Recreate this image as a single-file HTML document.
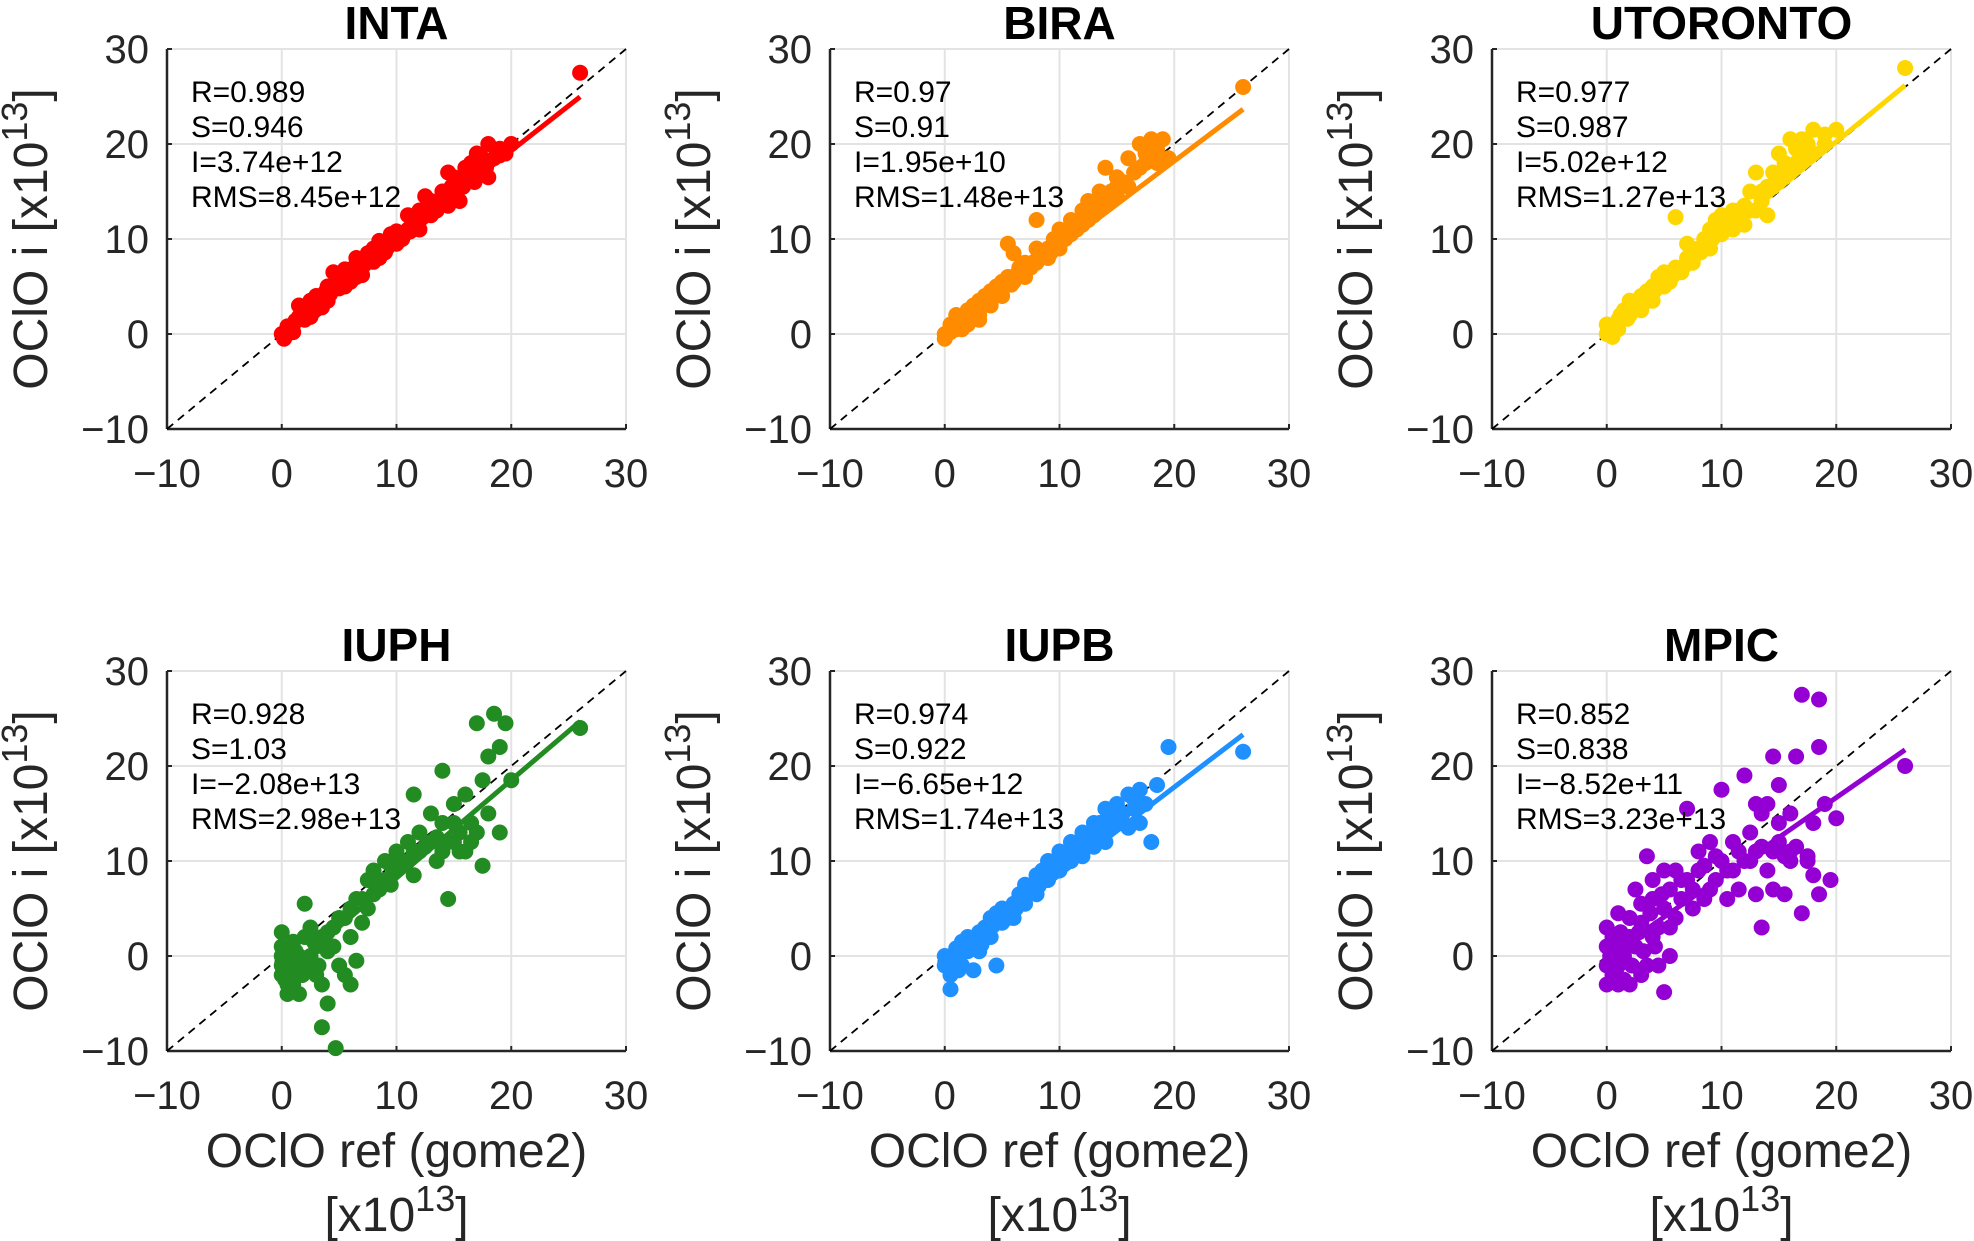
<!DOCTYPE html>
<html><head><meta charset="utf-8"><style>
html,body{margin:0;padding:0;background:#fff;}
svg{display:block;font-family:"Liberation Sans","DejaVu Sans",sans-serif;}
</style></head><body>
<svg id="fig" width="1974" height="1241" viewBox="0 0 1974 1241" xmlns="http://www.w3.org/2000/svg"></svg>
<script>
const panelNames = ["INTA","BIRA","UTORONTO","IUPH","IUPB","MPIC"];
const panelColors = ["#ff0000","#ff8c00","#ffd700","#228b22","#1e90ff","#9400d3"];
const statR = ["0.989","0.97","0.977","0.928","0.974","0.852"];
const statS = ["0.946","0.91","0.987","1.03","0.922","0.838"];
const statI = ["3.74e+12","1.95e+10","5.02e+12","\u22122.08e+13","\u22126.65e+12","\u22128.52e+11"];
const statRMS = ["8.45e+12","1.48e+13","1.27e+13","2.98e+13","1.74e+13","3.23e+13"];
const fitSlope = [0.946,0.91,0.987,1.03,0.922,0.838];
const fitIntercept = [0.374,0.00195,0.502,-2.08,-0.665,-0.0852];
const tickValues = [-10,0,10,20,30];
const tickLabels = ["\u221210","0","10","20","30"];

const ptsINTA = [[0,0],[0.2,-0.5],[0.5,0.8],[1,1],[1,0.2],[1.5,1.8],[2,1.5],[2,2.5],[2.5,3.5],[3,2.6],[3,4],[3.5,3.8],[4,3.5],[4,5],[4.5,6.5],[5,4.8],[5,6],[5.5,5],[6,6.8],[6,5.5],[6.5,8],[7,7],[7,6.2],[7.5,8.5],[8,7.6],[8,9],[8.5,8],[9,9.5],[9,8.6],[9.5,10.5],[10,9.5],[10,10.8],[10.5,10],[11,11],[11,12.5],[11.5,11.5],[12,11],[12,13],[12.5,14.5],[13,12.5],[13,14],[13.5,13],[14,15],[14.5,13.5],[15,14.5],[15,16.5],[15.5,14],[16,16],[16,17.5],[16.5,18],[17,17],[17,19],[17.5,18.5],[18,20],[18,16.5],[19,19.5],[19.5,19],[20,20],[26,27.5],[1.5,3],[2.5,1.8],[3.5,2.8],[5.5,6.8],[6.5,6],[8.5,9.8],[0.5,0],[1.2,1.4],[1.8,2.2],[2.2,3],[2.8,2.4],[3.2,3.3],[3.8,4.4],[4.2,4.2],[4.8,5.4],[5.2,5.3],[5.8,5.9],[6.2,6.3],[6.8,7.4],[7.2,7.3],[7.8,7.9],[8.2,8.4],[8.8,8.9],[9.2,9.1],[9.8,9.8],[10.2,10.3],[10.8,10.6],[11.2,10.8],[11.8,12],[12.2,12.2],[12.8,12.8],[13.2,13.2],[13.8,13.8],[14.2,14],[14.8,15.5],[15.2,15],[15.8,15.5],[16.2,16.8],[16.8,16],[17.2,18],[17.8,17.5],[18.5,18.5],[19,18.8],[14.5,17]];
const ptsBIRA = [[0,0],[0,-0.5],[0.5,1],[1,0.5],[1,2],[1.5,1.5],[2,2.5],[2,1],[2.5,3],[3,2],[3,3.5],[3.5,4],[4,3],[4,4.5],[4.5,5],[5,4],[5,5.5],[5.5,6],[5.5,9.5],[6,5.5],[6,8.5],[6.5,7],[7,6],[7,7.5],[7.5,7],[8,7.5],[8,9],[8.5,8.2],[9,9],[9,8],[9.5,10],[10,9],[10,11],[11,10.5],[11,12],[12,11.5],[12,13],[12.5,14],[13,12.5],[13.5,15],[14,13.5],[14,17.5],[14.5,15],[15,14.5],[15,16.5],[15.5,16],[16,15.5],[16,18.5],[17,17.5],[17,20],[17.5,18],[18,20.5],[18.5,19.5],[19,20.5],[19.5,18.5],[26,26],[8,12],[1.5,0.5],[3,1.5],[0.5,0.2],[1.2,1.2],[1.8,2],[2.2,1.8],[2.8,2.6],[3.2,3],[3.8,3.4],[4.2,3.9],[4.8,4.4],[5.2,5],[5.8,5.2],[6.2,6.2],[6.8,6.4],[7.2,6.8],[7.8,7.6],[8.2,8.3],[8.8,8.8],[9.2,8.5],[9.8,9.4],[10.5,10],[11.5,11],[12.5,12],[13,13.5],[14,14.5],[15,15.5],[16.5,17],[17.5,19],[18.5,18]];
const ptsUTORONTO = [[0,0],[0,1],[0.5,-0.3],[1,1.5],[1,0.5],[1.5,2.5],[2,2],[2,3.5],[2.5,3],[3,4],[3,2.5],[3.5,4.5],[4,5],[4,3.5],[4.5,6],[5,5],[5,6.5],[5.5,5.5],[6,7],[6,12.3],[6.5,6.5],[7,8],[7,9.5],[7.5,7.5],[8,9],[8.5,10],[9,9],[9,11],[9.5,12],[10,10.5],[10,12.5],[11,11],[11,13],[11.5,12],[12,13.5],[12,11.5],[12.5,15],[13,13],[13,17],[13.5,14],[14,15.5],[14,12.5],[14.5,17],[15,16],[15,19],[15.5,18],[16,17],[16,20.5],[16.5,19.5],[17,18.5],[17.5,20],[18,19],[18,21.5],[19,20],[19,21],[20,21.5],[26,28],[0.5,0.6],[1.2,2],[1.8,1.6],[2.2,2.8],[2.8,3.6],[3.2,3.2],[3.8,4],[4.2,4.6],[4.8,5.6],[5.2,6],[5.8,6.2],[6.2,6.6],[6.8,7.2],[7.2,7.8],[7.8,8.4],[8.2,8.6],[8.8,9.6],[9.2,10],[10.5,11.5],[11.5,13],[12.5,13],[13.5,15],[14.5,15.5],[15.5,16.5],[16.5,18],[17,20.5]];
const ptsIUPH = [[0,-1],[0,-2],[0,1],[0,2.5],[0.5,-3],[0.5,0],[0.5,-4],[1,-1],[1,-3],[1,1.5],[1.5,0],[1.5,-4],[2,-1],[2,2],[2,5.5],[2.5,0],[2.5,3],[3,1],[3,-2],[3.5,2],[3.5,-3],[4,2.5],[4,-5],[4.5,3],[3.5,-7.5],[5,-1],[5,4],[5.5,4],[4.7,-9.7],[6,5],[6,2],[6.5,6],[7,6],[7,3.5],[7.5,8],[8,6.5],[8,9],[8.5,7],[9,10],[9,8],[9.5,7.5],[10,11],[10,9],[11,10],[11,12],[11.5,8.5],[12,11],[12,13],[11.5,17],[13,12],[13,15],[13.5,10],[14,11],[14,14],[14.5,6],[14,19.5],[15,12],[15,16],[15.5,13],[16,11],[16,17],[16.5,14],[17,13],[17,24.5],[17.5,18.5],[18,15],[18,21],[18.5,25.5],[19,22],[19,13],[19.5,24.5],[20,18.5],[26,24],[0,0],[0.3,-2.5],[0.8,-1.5],[1.2,0.5],[1.8,-2],[2.2,-0.5],[2.8,1.5],[3.2,-1],[4,0.5],[4.5,1],[5.5,-2],[6,-3],[6.5,-0.5],[7.5,5],[8.5,8],[9.5,9.5],[10.5,10],[11.5,11],[12.5,11.5],[13.5,12.5],[14.5,12],[15.5,11],[16.5,12],[17.5,9.5],[15,14]];
const ptsIUPB = [[0,-1],[0,0],[0.5,-2],[0.5,-3.5],[1,-0.5],[1,0.8],[1.5,-1],[1.5,1.5],[2,0.5],[2,2],[2.5,1],[2.5,-1.5],[3,2.5],[3,0.5],[3.5,3],[4,2],[4,4],[4.5,4.5],[4.5,-1],[5,3.5],[5,5],[5.5,4],[6,5.5],[6,4],[6.5,6.5],[7,5.5],[7,7.5],[7.5,7],[8,8.5],[8,6.5],[8.5,9],[9,8],[9,10],[9.5,9.5],[10,9],[10,11],[10.5,10.5],[11,10],[11,12],[11.5,11],[12,13],[12,10.5],[12.5,12],[13,14],[13,11.5],[13.5,13],[14,12],[14,15.5],[14.5,13.5],[15,14],[15,16],[15.5,15],[16,17],[16,13.5],[16.5,15.5],[17,17.5],[17,14],[17.5,16],[18,12],[18.5,18],[19.5,22],[26,21.5],[0.3,-0.5],[0.8,0.2],[1.2,-1.5],[1.8,0.8],[2.2,1.4],[2.8,1.8],[3.2,1.2],[3.8,2.6],[4.2,3.2],[4.8,3.8],[5.2,4.4],[5.8,4.8],[6.2,5],[6.8,6.2],[7.2,6.6],[7.8,7.6],[8.2,7.4],[8.8,8.4],[9.2,8.8],[9.8,10.2],[10.2,9.8],[10.8,11],[11.2,10.6],[11.8,12],[12.2,11.8],[12.8,12.6],[13.5,14],[14.5,14.5],[15.5,14],[16.5,16.5]];
const ptsMPIC = [[0,-1],[0,1],[0,-3],[0,3],[0.5,-2],[0.5,0],[0.5,2],[1,-3],[1,-1],[1,1],[1,4.5],[1.5,0],[1.5,-2.5],[2,2],[2,-3],[2,4],[2.5,1],[2.5,7],[3,-2],[3,3.5],[3,5.5],[3.5,10.5],[3.5,-1],[4,2],[4,6],[4,8],[4.5,3],[4.5,-1],[5,5],[5,9],[5,-3.8],[5.5,0],[5.5,7],[6,4],[6,9],[6.5,6],[7,8],[7,15.5],[7.5,5],[8,9],[8,11],[8.5,6],[9,12],[9,7],[9.5,8],[10,17.5],[10,10],[10.5,6],[11,12],[11,9],[11.5,7],[12,19],[12,10],[12.5,13],[13,6.5],[13,11],[13.5,15],[13.5,3],[14,16],[14,9],[14.5,21],[14.5,7],[15,12],[15,18],[15.5,6.5],[16,11],[16,15],[16.5,21],[17,27.5],[17,4.5],[17.5,10],[18,14],[18,8.5],[18.5,27],[18.5,22],[18.5,6.5],[19,16],[19.5,8],[20,14.5],[26,20],[0.3,0],[0.8,-1.5],[1.2,2.5],[1.8,1],[2.2,-1],[2.8,2.5],[3.2,0.5],[3.8,4.5],[4.2,1],[4.8,6.5],[5.5,3],[6.5,8],[7.5,7],[8.5,9.5],[9.5,10.5],[10.5,9],[11.5,11],[12.5,10],[13.5,11.5],[14.5,11],[15.5,10.5],[16.5,11.5],[17.5,10.5],[13,16],[15,14],[16,10]];
const panelPoints = [ptsINTA,ptsBIRA,ptsUTORONTO,ptsIUPH,ptsIUPB,ptsMPIC];

const NS="http://www.w3.org/2000/svg";
const svg=document.getElementById('fig');
function mk(tag,attrs,parent){const e=document.createElementNS(NS,tag);for(const k in attrs)e.setAttribute(k,attrs[k]);(parent||svg).appendChild(e);return e;}

const colLeft=[167,830,1492], rowTop=[49,671], AW=459, AH=380;
const VMIN=-10, VMAX=30;

panelNames.forEach((name,p)=>{
  const L=colLeft[p%3], T=rowTop[Math.floor(p/3)], B=T+AH, R=L+AW;
  const sx=v=>L+(v-VMIN)/(VMAX-VMIN)*AW;
  const sy=v=>B-(v-VMIN)/(VMAX-VMIN)*AH;
  const g=mk('g',{});
  
  
  tickValues.forEach(v=>{
    const gx=mk('line',{x1:sx(v),y1:T,x2:sx(v),y2:B,stroke:'#e3e3e3','stroke-width':2},g);
    
    
    const gy=mk('line',{x1:L,y1:sy(v),x2:R,y2:sy(v),stroke:'#e3e3e3','stroke-width':2},g);
    
    
  });
  const ax=mk('line',{x1:L,y1:B,x2:R,y2:B,stroke:'#262626','stroke-width':2.5},g);
  
  
  const ay=mk('line',{x1:L,y1:T,x2:L,y2:B,stroke:'#262626','stroke-width':2.5},g);
  
  
  tickValues.forEach((v,i)=>{
    mk('line',{x1:sx(v),y1:B,x2:sx(v),y2:B-5,stroke:'#262626','stroke-width':2},g);
    mk('line',{x1:L,y1:sy(v),x2:L+5,y2:sy(v),stroke:'#262626','stroke-width':2},g);
    const xl=mk('text',{x:sx(v),y:B+58,'text-anchor':'middle','font-size':40,fill:'#262626'},g);
    xl.textContent=tickLabels[i];
    
    
    const yl=mk('text',{x:L-18,y:sy(v)+14,'text-anchor':'end','font-size':40,fill:'#262626'},g);
    yl.textContent=tickLabels[i];
    
    
  });
  const one=mk('line',{x1:sx(-10),y1:sy(-10),x2:sx(30),y2:sy(30),stroke:'#000','stroke-width':1.8,'stroke-dasharray':'8,6'},g);
  
  
  const pts=panelPoints[p];
  pts.forEach(pt=>{
    const c=mk('circle',{cx:sx(pt[0]),cy:sy(pt[1]),r:8,fill:panelColors[p]},g);
    
    
  });
  const xs=pts.map(d=>d[0]);
  const x0=Math.min(...xs), x1=Math.max(...xs);
  const fl=mk('line',{x1:sx(x0),y1:sy(fitSlope[p]*x0+fitIntercept[p]),x2:sx(x1),y2:sy(fitSlope[p]*x1+fitIntercept[p]),stroke:panelColors[p],'stroke-width':5},g);
  
  
  const st=["R="+statR[p],"S="+statS[p],"I="+statI[p],"RMS="+statRMS[p]];
  st.forEach((s,i)=>{
    const t=mk('text',{x:L+24,y:T+53+i*35,'font-size':30,fill:'#000'},g);
    t.textContent=s;
    
    
  });
  const tt=mk('text',{x:(L+R)/2,y:T-10,'text-anchor':'middle','font-size':46,'font-weight':'bold',fill:'#000'},g);
  tt.textContent=name;
  
  
  const yc=(T+B)/2;
  const ylab=mk('text',{x:0,y:0,'text-anchor':'middle','font-size':48,fill:'#262626',transform:`translate(${L-120},${yc}) rotate(-90)`},g);
  ylab.innerHTML='OClO i [x10<tspan dy="-20" font-size="36">13</tspan><tspan dy="20">]</tspan>';
  
  
  if(p>=3){
    const xlab=mk('text',{x:(L+R)/2,y:B+116,'text-anchor':'middle','font-size':48,fill:'#262626'},g);
    xlab.textContent='OClO ref (gome2)';
    
    
    const xu=mk('text',{x:(L+R)/2,y:B+180,'text-anchor':'middle','font-size':48,fill:'#262626'},g);
    xu.innerHTML='[x10<tspan dy="-20" font-size="36">13</tspan><tspan dy="20">]</tspan>';
    
    
  }
});
</script>
</body></html>
